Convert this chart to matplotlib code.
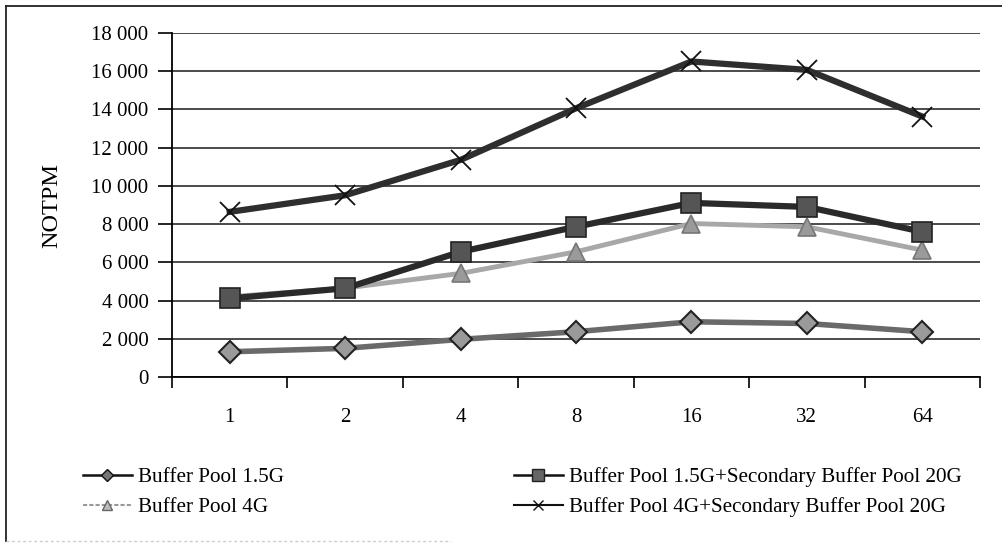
import matplotlib
matplotlib.use("Agg")
import matplotlib.pyplot as plt
from matplotlib.lines import Line2D
from matplotlib.ticker import FuncFormatter, FixedLocator

plt.rcParams['font.family'] = ['Liberation Serif', 'DejaVu Serif']

categories = ['1', '2', '4', '8', '16', '32', '64']
bp15 = [1320, 1500, 1970, 2370, 2890, 2800, 2370]
bp4 = [4200, 4650, 5420, 6550, 8030, 7860, 6640]
bp15_sbp = [4110, 4640, 6550, 7860, 9110, 8900, 7600]
bp4_sbp = [8640, 9510, 11360, 14060, 16510, 16070, 13630]
labels = ['Buffer Pool 1.5G', 'Buffer Pool 4G',
          'Buffer Pool 1.5G+Secondary Buffer Pool 20G',
          'Buffer Pool 4G+Secondary Buffer Pool 20G']

W, H = 1002, 545
AX_L, AX_R, AX_T, AX_B = 172, 980, 33, 377
fig = plt.figure(figsize=(W / 100, H / 100), dpi=100)
ax = fig.add_axes([AX_L / W, 1 - AX_B / H, (AX_R - AX_L) / W, (AX_B - AX_T) / H])

x = list(range(len(categories)))

ax.plot(x, bp15, color='#6a6a6a', lw=4, marker='D', ms=11, mfc='#9a9a9a',
        mec='#222222', mew=1.5, zorder=3)
ax.plot(x, bp4, color='#a8a8a8', lw=3.5, marker='^', ms=13, mfc='#9a9a9a',
        mec='#777777', mew=1.2, zorder=3)
ax.plot(x, bp15_sbp, color='#2a2a2a', lw=4.5, marker='s', ms=14, mfc='#555555',
        mec='#222222', mew=1.2, zorder=4)
ax.plot(x, bp4_sbp, color='#2e2e2e', lw=4.5, marker='x', ms=14, mec='#111111',
        mew=1.3, zorder=4)

ax.set_xlim(-0.5, len(categories) - 0.5)
ax.set_ylim(0, 18000)
ax.set_yticks(range(0, 18001, 2000))
ax.yaxis.set_major_formatter(FuncFormatter(lambda v, p: f"{v:,.0f}".replace(',', ' ')))
ax.grid(axis='y', color='#1a1a1a', lw=1.1)
ax.set_axisbelow(True)

ax.set_xticks(x)
ax.set_xticklabels(categories)
ax.xaxis.set_minor_locator(FixedLocator([i - 0.5 for i in range(len(categories) + 1)]))
ax.tick_params(axis='x', which='major', length=0, pad=22, labelsize=15)
ax.tick_params(axis='x', which='minor', length=8, width=1.2, direction='out')
ax.tick_params(axis='y', length=10, width=1.2, pad=7, labelsize=15)

for s in ['top', 'right']:
    ax.spines[s].set_visible(False)
ax.spines['left'].set_linewidth(1.3)
ax.spines['bottom'].set_linewidth(1.3)

ax.set_ylabel('NOTPM', fontsize=17.5)
ax.yaxis.set_label_coords((62 - AX_L) / (AX_R - AX_L), 0.5)

handles = [
    Line2D([], [], color='#111111', lw=1.8, marker='D', ms=6, mfc='#777777', mec='#111111'),
    Line2D([], [], color='#999999', lw=1.5, ls=(0, (2, 1)), marker='^', ms=7, mfc='#bbbbbb', mec='#666666'),
    Line2D([], [], color='#111111', lw=1.8, marker='s', ms=8, mfc='#666666', mec='#222222'),
    Line2D([], [], color='#111111', lw=1.5, marker='x', ms=7, mec='#111111'),
]
fig.legend(handles, labels, ncol=2, frameon=False, loc='upper left',
           bbox_to_anchor=(83 / W, 1 - 467 / H), borderpad=0, borderaxespad=0,
           handlelength=2.3, handletextpad=0.3, columnspacing=10.9,
           labelspacing=0.5, prop={'size': 15.2})

# outer frame
fig.add_artist(Line2D([6 / W, 6 / W], [1 - 6 / H, 1 - 541 / H], color='#222222', lw=1.3))
fig.add_artist(Line2D([6 / W, 1.0], [1 - 6 / H, 1 - 6 / H], color='#222222', lw=1.3))
fig.add_artist(Line2D([6 / W, 0.45], [1 - 541 / H, 1 - 541 / H], color='#cccccc', lw=1.0, ls=(0, (2, 2))))

fig.savefig('out.png', dpi=100)
